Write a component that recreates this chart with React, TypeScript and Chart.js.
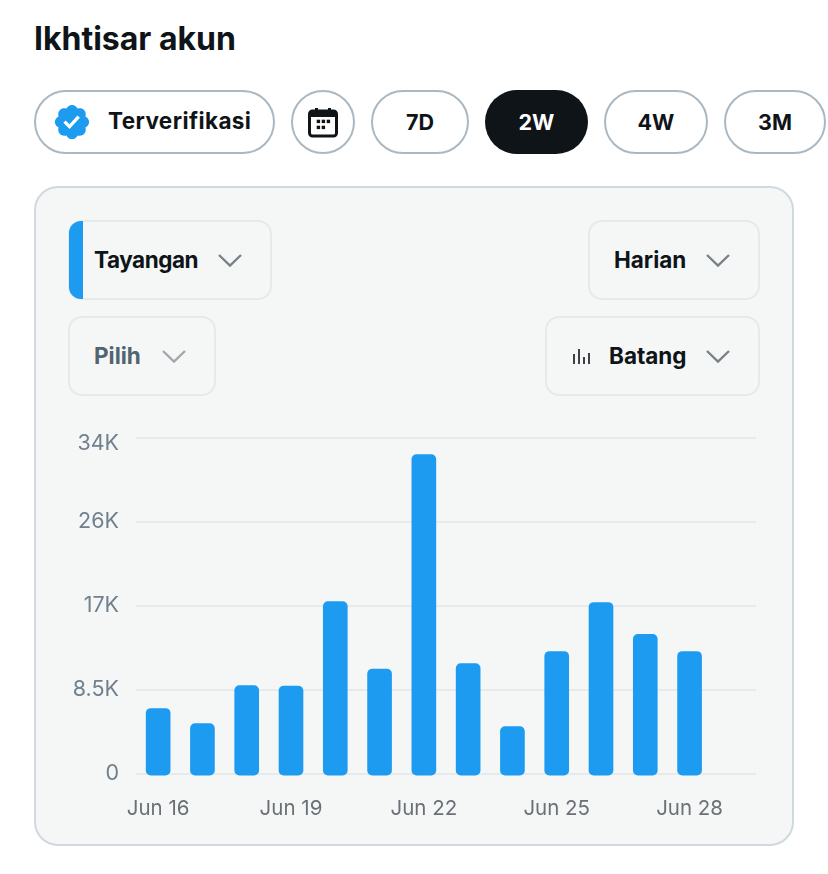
import React, { useEffect, useRef } from "react";
import { Chart, registerables } from "chart.js";

Chart.register(...registerables);

const categories = ["Jun 16","Jun 17","Jun 18","Jun 19","Jun 20","Jun 21","Jun 22","Jun 23","Jun 24","Jun 25","Jun 26","Jun 27","Jun 28","Jun 29"];
const views = [6620,5100,8940,8890,17430,10610,32280,11160,4800,12380,17330,14100,12380,null];
const yTicks = [0,8500,17000,25500,34000];
const yTickLabels = ["0","8.5K","17K","26K","34K"];
const xLabelEvery = 3;
const ranges = ["7D","2W","4W","3M"];

const FONT = "Inter, 'Noto Sans', sans-serif";
const INK = "#0f1419";

function abs(left: number, top: number, width: number, height: number): React.CSSProperties {
  return { position: "absolute", left, top, width, height, boxSizing: "border-box" };
}

function Pill({ x, w, active, children }: any) {
  return (
    <div style={{ ...abs(x, 90, w, 64), borderRadius: 32, border: active ? "none" : "2px solid #aab8c2", background: active ? "#0f1419" : "#fff", color: active ? "#fff" : INK, display: "flex", alignItems: "center", justifyContent: "center", font: `700 21.5px ${FONT}` }}>
      {children}
    </div>
  );
}

function Chevron({ x, y, color = "#788088" }: any) {
  return (
    <svg style={{ position: "absolute", left: x, top: y }} width="26" height="16" viewBox="0 0 26 16">
      <path d="M2 3 L13 13.5 L24 3" fill="none" stroke={color} strokeWidth="2.4" />
    </svg>
  );
}

function Dropdown({ x, y, w, h, label, labelX, chevronX, color = INK, chevronColor, spacing = 0 }: any) {
  return (
    <>
      <div style={{ ...abs(x, y, w, h), border: "2px solid #e6e9ec", borderRadius: 14 }} />
      <div style={{ position: "absolute", left: labelX, top: y + h / 2 - 15, font: `700 22.5px/30px ${FONT}`, letterSpacing: spacing, color, whiteSpace: "nowrap" }}>{label}</div>
      <Chevron x={chevronX} y={y + h / 2 - 8} color={chevronColor} />
    </>
  );
}

export default function App() {
  const ref = useRef<HTMLCanvasElement>(null);
  useEffect(() => {
    const chart = new Chart(ref.current!, {
      type: "bar",
      data: {
        labels: categories,
        datasets: [{ data: views, base: -120, clip: false, backgroundColor: "#1d9bf0", barThickness: 24, borderRadius: 5, borderSkipped: false }],
      },
      options: {
        animation: false,
        responsive: false,
        layout: { padding: { top: 37.5, right: 36, left: 0, bottom: 0 } },
        plugins: { legend: { display: false }, tooltip: { enabled: false } },
        scales: {
          x: {
            grid: { display: false },
            border: { display: false },
            afterFit: (s: any) => { s.height = 66; },
            ticks: {
              autoSkip: false, maxRotation: 0, minRotation: 0, padding: 15,
              color: "#6a7075",
              font: { family: FONT, size: 20.5, weight: "400" },
              callback(_v: any, i: number) { return i % xLabelEvery === 0 ? categories[i] : ""; },
            },
          },
          y: {
            min: 0, max: 34000,
            afterFit: (s: any) => {
              s.width = 100;
              if (s.__wrapped) return;
              s.__wrapped = true;
              const compute = s._computeLabelItems;
              s._computeLabelItems = function (area: any) {
                const items = compute.call(this, area);
                items.forEach((it: any) => { it.options.translation[1] += it.label === "34K" ? 6 : 0; });
                return items;
              };
            },
            afterBuildTicks: (s: any) => { s.ticks = yTicks.map((value) => ({ value })); },
            grid: { color: "#e6eaed", lineWidth: 2, drawTicks: false },
            border: { display: false },
            ticks: {
              padding: 17, color: "#71808e",
              font: { family: FONT, size: 21.5, weight: "400" },
              callback(v: any) { return yTickLabels[yTicks.indexOf(Number(v))]; },
            },
          },
        },
      } as any,
    });
    return () => chart.destroy();
  }, []);

  const rangeX = [371, 485, 604, 724];
  const rangeW = [98, 103, 104, 102];
  return (
    <div style={{ position: "absolute", left: 0, top: 0, width: 828, height: 874, overflow: "hidden", background: "#fff", fontFamily: FONT }}>
      <div style={{ position: "absolute", left: 34, top: 18, font: `700 32px/42px ${FONT}`, color: INK, whiteSpace: "nowrap" }}>Ikhtisar akun</div>

      <Pill x={34} w={241}><span /></Pill>
      <svg style={{ position: "absolute", left: 52, top: 102 }} width="40" height="40" viewBox="0 0 24 24">
        <circle cx="12" cy="12" r="6" fill="#fff" />
        <path fill="#1d9bf0" d="M22.25 12c0-1.43-.88-2.67-2.19-3.34.46-1.39.2-2.9-.81-3.91s-2.52-1.27-3.91-.81c-.66-1.31-1.91-2.19-3.34-2.19s-2.67.88-3.33 2.19c-1.4-.46-2.91-.2-3.92.81s-1.26 2.52-.8 3.91c-1.31.67-2.2 1.91-2.2 3.34s.89 2.67 2.2 3.34c-.46 1.39-.21 2.9.8 3.91s2.52 1.26 3.91.81c.67 1.31 1.91 2.19 3.34 2.19s2.68-.88 3.34-2.19c1.39.45 2.9.2 3.91-.81s1.27-2.52.81-3.91c1.31-.67 2.19-1.91 2.19-3.34zm-11.71 4.2L6.8 12.46l1.41-1.42 2.26 2.26 4.8-5.23 1.47 1.36-6.2 6.77z" />
      </svg>
      <div style={{ position: "absolute", left: 108, top: 106, font: `700 22.5px/30px ${FONT}`, letterSpacing: 0.4, color: INK, whiteSpace: "nowrap" }}>Terverifikasi</div>

      <Pill x={291} w={64}>
        <svg width="32" height="32" viewBox="0 0 32 32">
          <rect x="2.5" y="5" width="27" height="25" rx="3" fill="none" stroke={INK} strokeWidth="3" />
          <rect x="2.5" y="5" width="27" height="6" fill={INK} />
          <rect x="8" y="2" width="3" height="5" fill={INK} />
          <rect x="21" y="2" width="3" height="5" fill={INK} />
          {[[11, 15], [16, 15], [21, 15], [11, 21], [16, 21]].map(([a, b]) => (
            <rect key={a + "-" + b} x={a - 1.3} y={b - 1.3} width="3.4" height="3.4" fill={INK} />
          ))}
        </svg>
      </Pill>
      {ranges.map((r, i) => <Pill key={r} x={rangeX[i]} w={rangeW[i]} active={r === "2W"}>{r}</Pill>)}

      <div style={{ ...abs(34, 186, 760, 660), background: "#f5f7f7", border: "2px solid #cfd9de", borderRadius: 24 }} />

      <Dropdown x={68} y={220} w={204} h={80} label="Tayangan" labelX={94} chevronX={217} spacing={-0.45} />
      <div style={{ ...abs(69, 221, 14, 78), background: "#1d9bf0", borderRadius: "12px 0 0 12px" }} />
      <Dropdown x={68} y={316} w={148} h={80} label="Pilih" labelX={94} chevronX={161} color="#536471" chevronColor="#a0a8ae" />
      <Dropdown x={588} y={220} w={172} h={80} label="Harian" labelX={614} chevronX={705} />
      <Dropdown x={545} y={316} w={215} h={80} label="Batang" labelX={609} chevronX={705} />
      <svg style={{ position: "absolute", left: 572, top: 346 }} width="20" height="20" viewBox="0 0 20 20">
        <path d="M2 8v10M7 3v15M12 11v7M17 7v11" stroke={INK} strokeWidth="1.6" fill="none" />
      </svg>

      <canvas ref={ref} width={756} height={440} style={{ position: "absolute", left: 36, top: 400, width: 756, height: 440 }} />
    </div>
  );
}
